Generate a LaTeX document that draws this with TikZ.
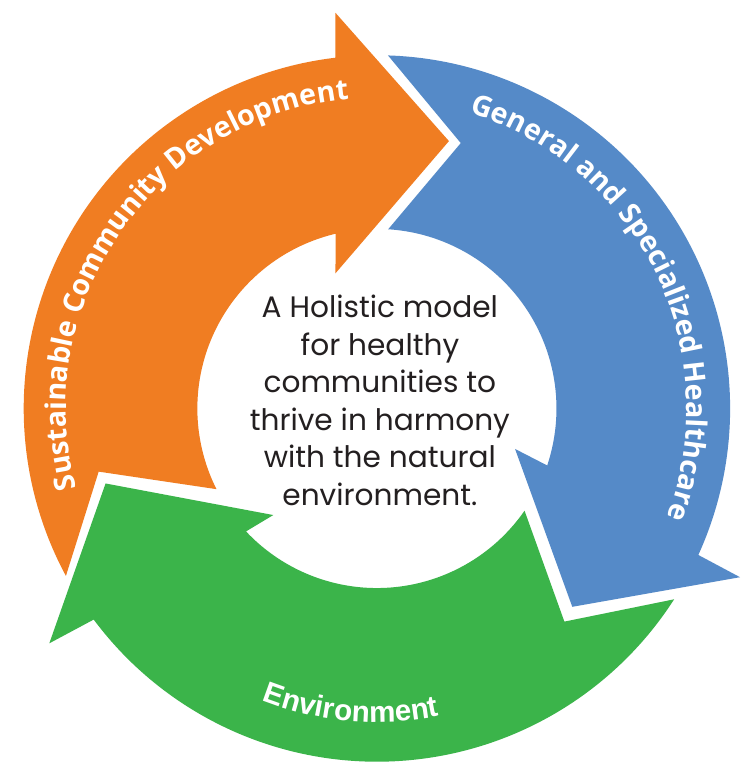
\documentclass[tikz,border=0pt]{standalone}
\usepackage{fontspec}
\usepackage{tikz}
\usetikzlibrary{decorations.text}
\newfontfamily\hubfont{Poppins}
\newfontfamily\bandfont{Open Sans}
\newfontfamily\envfont{Liberation Sans}
\definecolor{bandorange}{RGB}{240,125,34}
\definecolor{bandblue}{RGB}{85,138,200}
\definecolor{bandgreen}{RGB}{59,180,74}
\definecolor{hubtext}{RGB}{35,31,32}
\tikzset{
	% Three arrows of the cycle, and the text in the middle
	band/.style={draw=none,fill=#1},
	hub node/.style={align=center,text=hubtext,font=\hubfont\fontsize{15}{19}\selectfont}
}

\begin{document}
\begin{tikzpicture}[x=0.5pt,y=0.5pt]
			% macro for the curved labels: [font] text, start angle, end angle, radius
			\newcommand{\bandlabel}[5][\bandfont\bfseries\fontsize{14.5}{14.5}\selectfont]{%
				\path[decorate,decoration={text along path,text align=center,text color=white,text={|#1|#2}}]
					(#3:#5) arc[start angle=#3,end angle=#4,radius=#5];}
			
			\fill[white] (-382,-360) rectangle (377,414);
			
			% orange arrow, over the top
			\fill[band=bandorange] (208.3:358) arc[start angle=208.3,end angle=96.74,radius=358]
				-- (-42,401) -- (73,271) -- (-42,137)
				-- (103.3:182) arc[start angle=103.3,end angle=206.7,radius=182]
				-- (-282,-64) -- cycle;
			% blue arrow, down the right side
			\fill[band=bandblue] (88.2:358) arc[start angle=88.2,end angle=-24.5,radius=358]
				-- (368,-171) -- (198,-201) -- (140,-41)
				-- (-18.5:182) arc[start angle=-18.5,end angle=86.4,radius=182]
				-- (85,269) -- cycle;
			% green arrow, along the bottom
			\fill[band=bandgreen] (-32.7:358) -- (190,-216)
				-- (-34.7:182) arc[start angle=-34.7,end angle=-136.8,radius=182]
				-- (-105,-108) -- (-275,-76) -- (-332,-238)
				-- (-143.3:358) arc[start angle=-143.3,end angle=-32.7,radius=358] -- cycle;
			
			\bandlabel{Sustainable Community Development}{205}{85}{315}
			\bandlabel{General and Specialized Healthcare}{86}{-34}{314}
			\bandlabel[\envfont\bfseries\fontsize{15}{15}\selectfont]{Environment}{-135}{-55}{318}
			
			\node(hub)[hub node] at (3,8) {A Holistic model\\for healthy\\communities to\\thrive in harmony\\with the natural\\environment.};
		\end{tikzpicture}
\end{document}
